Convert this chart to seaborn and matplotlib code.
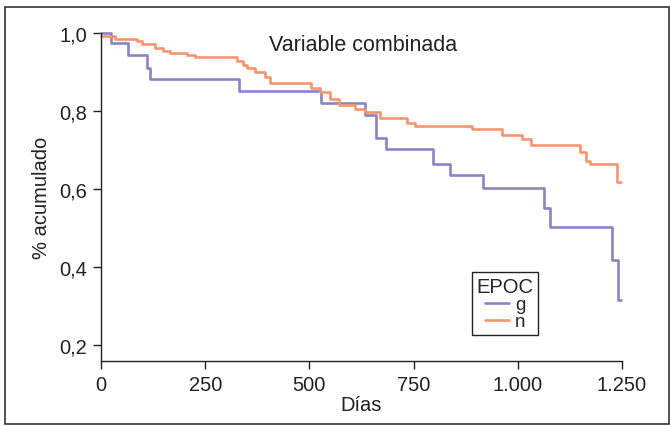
import matplotlib
matplotlib.use("Agg")
import matplotlib.pyplot as plt
import seaborn as sns
import pandas as pd
from matplotlib.patches import Rectangle
from matplotlib.ticker import FuncFormatter

# Data (Kaplan-Meier style step curves)
t_g = [0, 24, 65, 111, 118, 331, 527, 633, 660, 683, 797, 838, 916, 1062, 1077, 1226, 1241, 1248]
s_g = [1.0, 0.974, 0.944, 0.91, 0.881, 0.852, 0.82, 0.79, 0.731, 0.702, 0.665, 0.635, 0.603,
       0.551, 0.502, 0.418, 0.315, 0.315]
t_n = [0, 34, 86, 98, 130, 148, 166, 206, 226, 326, 340, 350, 369, 393, 405, 505, 525, 549,
       572, 609, 633, 669, 733, 753, 889, 963, 1009, 1031, 1149, 1164, 1173, 1237, 1247]
s_n = [0.993, 0.985, 0.979, 0.972, 0.962, 0.955, 0.950, 0.944, 0.938, 0.929, 0.918, 0.909,
       0.899, 0.886, 0.872, 0.859, 0.848, 0.831, 0.816, 0.805, 0.797, 0.782, 0.769, 0.762,
       0.754, 0.738, 0.728, 0.713, 0.696, 0.673, 0.663, 0.619, 0.619]
groups = ["g", "n"]
colors = ["#8884c6", "#f7956f"]
x_ticks = [0, 250, 500, 750, 1000, 1250]
y_ticks = [0.2, 0.4, 0.6, 0.8, 1.0]

df = pd.concat([
    pd.DataFrame({"Días": t_g, "surv": s_g, "EPOC": "g"}),
    pd.DataFrame({"Días": t_n, "surv": s_n, "EPOC": "n"}),
], ignore_index=True)

sns.set_style("ticks")
plt.rcParams["font.family"] = ["Liberation Sans", "DejaVu Sans"]

fig = plt.figure(figsize=(6.7, 4.27), dpi=100)
ax = fig.add_axes([101/670, 65/427, 521/670, 328/427])

sns.lineplot(data=df, x="Días", y="surv", hue="EPOC", hue_order=groups,
             palette=dict(zip(groups, colors)), drawstyle="steps-post",
             estimator=None, sort=False, linewidth=1.9, ax=ax)
for ln in ax.lines:
    ln.set_clip_on(False)

ax.set_xlim(0, 1250)
ax.set_ylim(0.159, 1.0)
ax.set_xticks(x_ticks)
ax.set_yticks(y_ticks)
ax.xaxis.set_major_formatter(FuncFormatter(lambda v, p: f"{int(v):,}".replace(",", ".")))
ax.yaxis.set_major_formatter(FuncFormatter(lambda v, p: f"{v:.1f}".replace(".", ",")))
ax.tick_params(axis="both", labelsize=14.5, length=6, width=1, color="#222222", labelcolor="#222222", pad=4)
for s in ["top", "right"]:
    ax.spines[s].set_visible(False)
for s in ["left", "bottom"]:
    ax.spines[s].set_color("#222222")
    ax.spines[s].set_linewidth(1)

ax.set_xlabel("Días", fontsize=14.5, color="#222222", labelpad=1)
ax.set_ylabel("% acumulado", fontsize=14.5, color="#222222", labelpad=6)
ax.text(0.503, 0.966, "Variable combinada", transform=ax.transAxes, ha="center", va="center",
        fontsize=15.5, color="#222222")

leg = ax.legend(title="EPOC", loc="lower left", bbox_to_anchor=(0.712, 0.079),
                fontsize=13.5, title_fontsize=14.5, frameon=True, fancybox=False,
                labelspacing=0.0, handlelength=1.3, handletextpad=0.3,
                borderpad=0.25, borderaxespad=0)
leg.get_frame().set_edgecolor("#222222")
leg.get_frame().set_linewidth(1)
leg.get_frame().set_alpha(1)
for h in leg.get_lines():
    h.set_linewidth(1.9)

fig.patches.append(Rectangle((5/670, 2/427), 664/670, 417/427, transform=fig.transFigure,
                             fill=False, edgecolor="#333333", linewidth=1.2))

fig.savefig("out.png", dpi=100)
